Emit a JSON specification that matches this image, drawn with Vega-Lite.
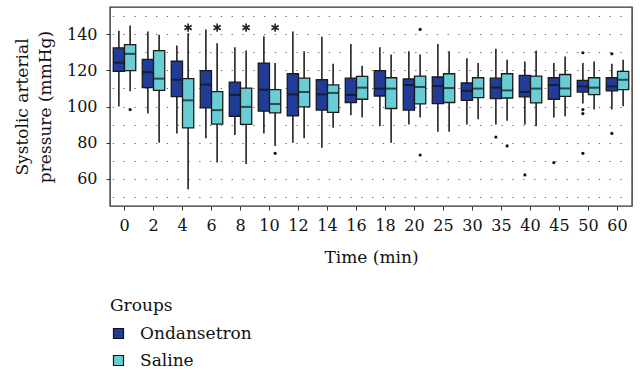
{
  "$schema": "https://vega.github.io/schema/vega-lite/v6.json",
  "autosize": {"type": "none"},
  "padding": {"left": 110, "top": 7, "right": 8, "bottom": 164},
  "width": 522,
  "height": 199,
  "config": {
    "font": "DejaVu Serif",
    "view": {"stroke": "#333333", "strokeWidth": 1.4},
    "axis": {"labelFont": "DejaVu Serif", "titleFont": "DejaVu Serif", "labelColor": "#111", "titleColor": "#111", "titleFontWeight": "normal", "domain": false, "tickColor": "#333", "labelOverlap": false},
    "legend": {"titleFont": "DejaVu Serif", "labelFont": "DejaVu Serif", "titleFontWeight": "normal", "titleColor": "#111", "labelColor": "#111"}
  },
  "resolve": {"axis": {"y": "independent"}},
  "datasets": {
    "boxes": [
      {"time": 0, "group": "Ondansetron", "lo": 100, "q1": 119.4, "med": 124.2, "q3": 132.4, "hi": 141.9},
      {"time": 0, "group": "Saline", "lo": 108.4, "q1": 119.8, "med": 129.1, "q3": 134.2, "hi": 144.8},
      {"time": 2, "group": "Ondansetron", "lo": 96.1, "q1": 110.4, "med": 119, "q3": 126, "hi": 141.5},
      {"time": 2, "group": "Saline", "lo": 80, "q1": 108.9, "med": 115.4, "q3": 130.9, "hi": 139.7},
      {"time": 4, "group": "Ondansetron", "lo": 85.1, "q1": 105.5, "med": 114.8, "q3": 125, "hi": 133.7},
      {"time": 4, "group": "Saline", "lo": 54.3, "q1": 88.2, "med": 103.4, "q3": 115.4, "hi": 140.5},
      {"time": 6, "group": "Ondansetron", "lo": 82.4, "q1": 99.2, "med": 112.1, "q3": 119.8, "hi": 142.5},
      {"time": 6, "group": "Saline", "lo": 69, "q1": 90.3, "med": 98, "q3": 108.2, "hi": 134.9},
      {"time": 8, "group": "Ondansetron", "lo": 84.2, "q1": 94.6, "med": 106.4, "q3": 113.5, "hi": 132.7},
      {"time": 8, "group": "Saline", "lo": 68.2, "q1": 90.1, "med": 99.8, "q3": 110.2, "hi": 130.9},
      {"time": 10, "group": "Ondansetron", "lo": 85.1, "q1": 97.4, "med": 109.3, "q3": 124, "hi": 138.8},
      {"time": 10, "group": "Saline", "lo": 78.2, "q1": 96.5, "med": 101.4, "q3": 109.3, "hi": 124},
      {"time": 12, "group": "Ondansetron", "lo": 80, "q1": 94.8, "med": 106.7, "q3": 118.1, "hi": 141.5},
      {"time": 12, "group": "Saline", "lo": 82.4, "q1": 99.8, "med": 108, "q3": 115.7, "hi": 130.5},
      {"time": 14, "group": "Ondansetron", "lo": 77.2, "q1": 98, "med": 106.7, "q3": 114.8, "hi": 138.6},
      {"time": 14, "group": "Saline", "lo": 88.2, "q1": 96.8, "med": 107.5, "q3": 111.9, "hi": 123.6},
      {"time": 16, "group": "Ondansetron", "lo": 95.2, "q1": 102.2, "med": 106.4, "q3": 115.7, "hi": 134.6},
      {"time": 16, "group": "Saline", "lo": 93.9, "q1": 104, "med": 110.4, "q3": 116.6, "hi": 122.5},
      {"time": 18, "group": "Ondansetron", "lo": 89.1, "q1": 105.8, "med": 109.9, "q3": 119.8, "hi": 132.7},
      {"time": 18, "group": "Saline", "lo": 80, "q1": 98.9, "med": 109.9, "q3": 115.9, "hi": 128.7},
      {"time": 20, "group": "Ondansetron", "lo": 90.1, "q1": 98, "med": 111.9, "q3": 115.2, "hi": 130.5},
      {"time": 20, "group": "Saline", "lo": 93.9, "q1": 101.4, "med": 110.8, "q3": 116.8, "hi": 128.7},
      {"time": 25, "group": "Ondansetron", "lo": 86, "q1": 101.6, "med": 111.3, "q3": 116.3, "hi": 134.6},
      {"time": 25, "group": "Saline", "lo": 86, "q1": 102.2, "med": 110.2, "q3": 118.1, "hi": 130.5},
      {"time": 30, "group": "Ondansetron", "lo": 90.1, "q1": 103.4, "med": 108.6, "q3": 113, "hi": 126.7},
      {"time": 30, "group": "Saline", "lo": 93, "q1": 104.9, "med": 109.9, "q3": 115.9, "hi": 124},
      {"time": 35, "group": "Ondansetron", "lo": 90.1, "q1": 104.4, "med": 110.4, "q3": 115.7, "hi": 131.9},
      {"time": 35, "group": "Saline", "lo": 92.1, "q1": 104.7, "med": 108.9, "q3": 118.1, "hi": 125.8},
      {"time": 40, "group": "Ondansetron", "lo": 90.1, "q1": 105.3, "med": 108, "q3": 117.2, "hi": 124.9},
      {"time": 40, "group": "Saline", "lo": 89.1, "q1": 102, "med": 109.9, "q3": 116.8, "hi": 130.9},
      {"time": 45, "group": "Ondansetron", "lo": 93.9, "q1": 104, "med": 111.9, "q3": 115.9, "hi": 124},
      {"time": 45, "group": "Saline", "lo": 94.6, "q1": 105.6, "med": 110, "q3": 117.7, "hi": 127.6},
      {"time": 50, "group": "Ondansetron", "lo": 101.6, "q1": 108, "med": 111.1, "q3": 114.4, "hi": 124},
      {"time": 50, "group": "Saline", "lo": 98.3, "q1": 106.6, "med": 110.4, "q3": 115.9, "hi": 124.9},
      {"time": 60, "group": "Ondansetron", "lo": 98.3, "q1": 108.6, "med": 111.1, "q3": 115.9, "hi": 123.6},
      {"time": 60, "group": "Saline", "lo": 100.1, "q1": 109.3, "med": 114.8, "q3": 119.4, "hi": 125.8}
    ],
    "outliers": [
      {"time": 0, "group": "Saline", "value": 98.3},
      {"time": 10, "group": "Saline", "value": 74.1},
      {"time": 20, "group": "Saline", "value": 142.6},
      {"time": 20, "group": "Saline", "value": 73.2},
      {"time": 35, "group": "Ondansetron", "value": 83.1},
      {"time": 35, "group": "Saline", "value": 78.2},
      {"time": 40, "group": "Ondansetron", "value": 62.2},
      {"time": 45, "group": "Ondansetron", "value": 69},
      {"time": 50, "group": "Ondansetron", "value": 129.7},
      {"time": 50, "group": "Ondansetron", "value": 98.3},
      {"time": 50, "group": "Ondansetron", "value": 96.1},
      {"time": 50, "group": "Ondansetron", "value": 74.1},
      {"time": 60, "group": "Ondansetron", "value": 129.1},
      {"time": 60, "group": "Ondansetron", "value": 85.1}
    ],
    "stars": [
      {"time": 4, "group": "Saline", "value": 143.6},
      {"time": 6, "group": "Saline", "value": 143.6},
      {"time": 8, "group": "Saline", "value": 143.6},
      {"time": 10, "group": "Saline", "value": 143.6}
    ]
  },
  "encoding": {
    "x": {
      "field": "time", "type": "ordinal",
      "scale": {"domain": [0, 2, 4, 6, 8, 10, 12, 14, 16, 18, 20, 25, 30, 35, 40, 45, 50, 60], "paddingInner": 0, "paddingOuter": 0},
      "axis": {"title": "Time (min)", "labelAngle": 0, "labelFontSize": 16, "titleFontSize": 17, "tickSize": 4, "labelPadding": 7, "titlePadding": 16, "grid": false}
    },
    "xOffset": {"field": "group", "type": "nominal", "scale": {"domain": ["Ondansetron", "Saline"], "paddingOuter": 0.29, "paddingInner": 0}}
  },
  "layer": [
    {
      "data": {"name": "boxes"},
      "mark": {"type": "rule", "color": "#222222", "strokeWidth": 1.6},
      "encoding": {
        "y": {
          "field": "lo", "type": "quantitative",
          "scale": {"domain": [45, 155], "nice": false, "zero": false},
          "axis": {
            "title": ["Systolic arterial", "pressure (mmHg)"],
            "orient": "left",
            "values": [60, 80, 100, 120, 140],
            "labelOverlap": false,
            "labelFontSize": 16, "titleFontSize": 17, "titleLineHeight": 23,
            "tickSize": 4, "labelPadding": 9, "titlePadding": 12,
            "grid": false
          }
        },
        "y2": {"field": "hi"}
      }
    },
    {
      "data": {"name": "boxes"},
      "mark": {"type": "bar", "stroke": "#1a1a1a", "strokeWidth": 1.3},
      "encoding": {
        "y": {"field": "q1", "type": "quantitative", "axis": null},
        "y2": {"field": "q3"},
        "fill": {
          "field": "group", "type": "nominal",
          "scale": {"domain": ["Ondansetron", "Saline"], "range": ["#213c96", "#69cdd6"]},
          "legend": {
            "title": "Groups", "orient": "none", "legendX": 0, "legendY": 291,
            "titleFontSize": 17, "labelFontSize": 17, "symbolType": "square", "symbolSize": 100,
            "symbolStrokeColor": "#111111", "symbolStrokeWidth": 1.2, "rowPadding": 9, "labelOffset": 13, "titlePadding": 10
          }
        }
      }
    },
    {
      "data": {"name": "boxes"},
      "mark": {"type": "tick", "color": "#111111", "thickness": 2, "size": 11},
      "encoding": {
        "y": {"field": "med", "type": "quantitative", "axis": null}
      }
    },
    {
      "data": {"name": "outliers"},
      "mark": {"type": "circle", "color": "#111111", "size": 10, "opacity": 1},
      "encoding": {
        "y": {
          "field": "value", "type": "quantitative",
          "axis": {
            "orient": "right", "title": null, "labels": false, "ticks": false, "domain": false,
            "values": [50, 60, 70, 80, 90, 100, 110, 120, 130, 140, 150],
            "grid": true, "gridColor": "#666666", "gridDash": [1.3, 9.5], "gridWidth": 1.2
          }
        }
      }
    },
    {
      "data": {"name": "stars"},
      "mark": {"type": "point", "shape": "M0,-1L0,1M-0.87,-0.5L0.87,0.5M-0.87,0.5L0.87,-0.5", "filled": false, "stroke": "#222222", "strokeWidth": 1.6, "size": 70, "opacity": 1},
      "encoding": {
        "y": {"field": "value", "type": "quantitative", "axis": null}
      }
    }
  ]
}
